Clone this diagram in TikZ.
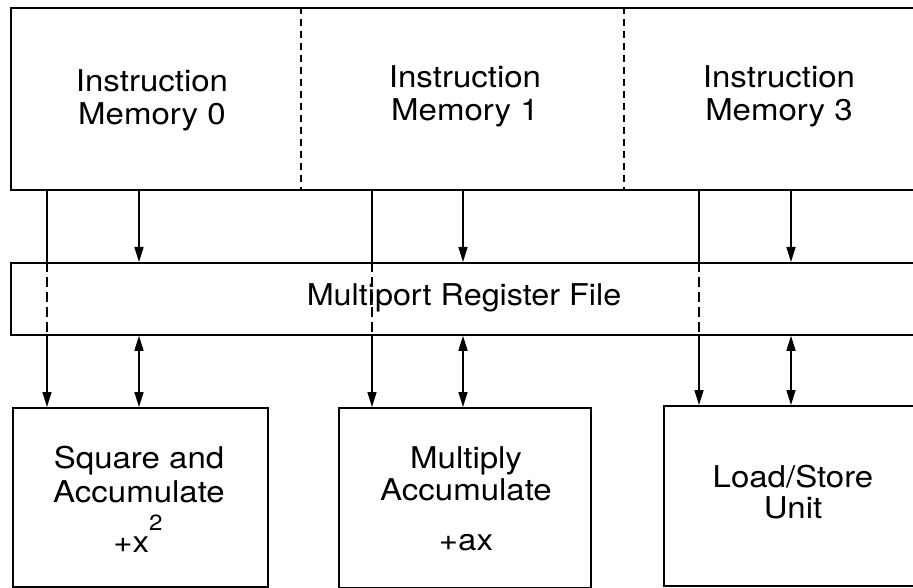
\documentclass[tikz,border=0pt]{standalone}
\usepackage{fontspec}
\setmainfont{TeX Gyre Heros}
\usetikzlibrary{arrows.meta}
\begin{document}
\begin{tikzpicture}[x=1pt,y=-1pt,
  blk/.style={draw=black, line width=1.8pt, rectangle, inner sep=0pt, anchor=north west},
  lbl/.style={font=\fontsize{30}{35}\selectfont, inner sep=0pt, anchor=base, xscale=1.1},
  conn/.style={line width=1.6pt},
  arr/.style={conn, -{Triangle[length=15pt,width=9pt]}},
  biarr/.style={conn, {Triangle[length=15pt,width=9pt]}-{Triangle[length=15pt,width=9pt]}},
  divdash/.style={line width=1.5pt, dash pattern=on 7pt off 5pt},
  passdash/.style={line width=1.6pt, dash pattern=on 10pt off 5pt}]
\useasboundingbox (0,0) rectangle (913,588);
\clip (0,0) rectangle (913,588);
\fill[white] (0,0) rectangle (913,588);

% boxes
\node[blk, minimum width=920pt, minimum height=182pt] (imem) at (10,7) {};
\node[blk, minimum width=920pt, minimum height=72pt] (rf) at (10,262) {};
\node[blk, minimum width=255pt, minimum height=179pt] (b1) at (12,407) {};
\node[blk, minimum width=252pt, minimum height=180pt] (b2) at (338,407) {};
\node[blk, minimum width=270pt, minimum height=180pt] (b3) at (663,405) {};

% dividers in instruction memory
\coordinate (d1) at (301,0);
\coordinate (d2) at (624,0);
\draw[divdash] (d1 |- imem.north) -- (d1 |- imem.south);
\draw[divdash] (d2 |- imem.north) -- (d2 |- imem.south);

% labels
\node[lbl] (m0a) at (152,92) {Instruction};
\node[lbl] (m0b) at (152,125) {Memory 0};
\node[lbl] (m1a) at (465,88) {Instruction};
\node[lbl] (m1b) at (465,121) {Memory 1};
\node[lbl] (m3a) at (779,88) {Instruction};
\node[lbl] (m3b) at (779,121) {Memory 3};
\node[lbl, xscale=0.98] (rft) at (464,305) {Multiport Register File};
\node[lbl] (s1) at (139,468) {Square and};
\node[lbl] (s2) at (139,502) {Accumulate};
\node[lbl] (s3) at (138,552) {+x\raisebox{0.72em}{\fontsize{22}{22}\selectfont 2}};
\node[lbl] (ma1) at (466,468) {Multiply};
\node[lbl] (ma2) at (466,500) {Accumulate};
\node[lbl] (ma3) at (466,550) {+ax};
\node[lbl] (ls1) at (793,487) {Load/Store};
\node[lbl] (ls2) at (793,518) {Unit};

% connector x positions
\coordinate (p1) at (47,0);
\coordinate (q1) at (139,0);
\coordinate (p2) at (372,0);
\coordinate (q2) at (463,0);
\coordinate (p3) at (699,0);
\coordinate (q3) at (791,0);

% pass-through arrows (instruction memory -> functional unit)
\draw[conn] (p1 |- imem.south) -- (p1 |- rf.north);
\draw[passdash] (p1 |- rf.north) -- (p1 |- rf.south);
\draw[arr] (p1 |- rf.south) -- (p1 |- b1.north);
\draw[conn] (p2 |- imem.south) -- (p2 |- rf.north);
\draw[passdash] (p2 |- rf.north) -- (p2 |- rf.south);
\draw[arr] (p2 |- rf.south) -- (p2 |- b2.north);
\draw[conn] (p3 |- imem.south) -- (p3 |- rf.north);
\draw[passdash] (p3 |- rf.north) -- (p3 |- rf.south);
\draw[arr] (p3 |- rf.south) -- (p3 |- b3.north);

% instruction memory -> register file
\draw[arr] (q1 |- imem.south) -- (q1 |- rf.north);
\draw[arr] (q2 |- imem.south) -- (q2 |- rf.north);
\draw[arr] (q3 |- imem.south) -- (q3 |- rf.north);

% register file <-> functional units
\draw[biarr] (q1 |- rf.south) -- (q1 |- b1.north);
\draw[biarr] (q2 |- rf.south) -- (q2 |- b2.north);
\draw[biarr] (q3 |- rf.south) -- (q3 |- b3.north);
\end{tikzpicture}
\end{document}
